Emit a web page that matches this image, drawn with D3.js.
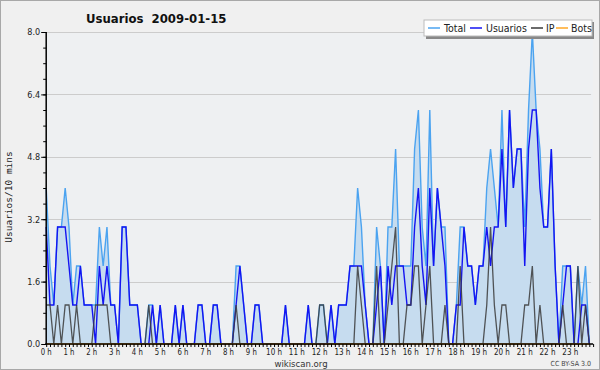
<!DOCTYPE html>
<html><head><meta charset="utf-8">
<script src="https://cdn.jsdelivr.net/npm/d3@7"></script>
<style>body{margin:0;background:#f0f0f0}svg{display:block}</style>
</head><body>
<svg id="c" width="600" height="370"></svg>
<script>
const hourLabels = ["0 h","1 h","2 h","3 h","4 h","5 h","6 h","7 h","8 h","9 h","10 h","11 h","12 h","13 h","14 h","15 h","16 h","17 h","18 h","19 h","20 h","21 h","22 h","23 h"];
const yTicks = [0, 1.6, 3.2, 4.8, 6.4, 8.0];
const seriesNames = ["Total","Usuarios","IP","Bots"];
const total = [4,2,1,3,3,4,3,1,2,2,1,1,1,1,3,2,3,1,1,0,3,3,1,1,
  1,0,0,1,1,0,1,0,0,0,1,0,1,0,0,0,1,1,0,0,1,1,0,0,
  0,0,2,2,1,0,0,1,1,0,0,0,0,0,0,1,0,0,0,0,0,1,0,0,
  1,1,0,1,0,1,1,1,2,2,4,3,1,0,0,3,2,0,3,3,5,2,2,2,
  2,5,6,3,2,6,2,4,3,3,0,0,1,3,3,2,2,1,2,2,4,5,4,3,
  6,3,6,4,5,5,3,6,8,6,5,3,3,5,2,0,2,2,2,0,2,1,2,0];
const usuarios = [3,1,1,3,3,3,2,1,1,2,1,1,1,0,2,1,2,1,1,0,3,3,1,1,
  1,0,0,0,1,0,1,0,0,0,1,0,1,0,0,0,1,1,0,0,1,1,0,0,
  0,0,1,2,1,0,0,1,1,0,0,0,0,0,0,1,0,0,0,0,0,1,0,0,
  0,0,0,1,0,1,1,1,2,2,2,2,1,0,0,1,2,0,2,1,2,2,2,1,
  1,3,4,2,1,4,2,4,3,2,0,0,1,1,3,2,2,1,2,2,3,2,3,3,
  5,3,6,4,5,5,2,5,6,6,4,3,3,5,2,0,1,2,2,0,0,1,1,0];
const ip = [1,1,0,1,0,1,1,0,1,0,0,0,0,1,1,1,1,0,0,0,0,0,0,0,
  0,0,0,1,0,0,0,0,0,0,0,0,0,0,0,0,0,0,0,0,0,0,0,0,
  0,0,1,0,0,0,0,0,0,0,0,0,0,0,0,0,0,0,0,0,0,0,0,0,
  1,1,0,0,0,0,0,0,0,0,2,1,0,0,0,2,0,0,1,2,3,0,0,1,
  1,2,2,0,1,2,0,0,0,1,0,0,0,2,0,0,0,0,0,0,1,3,1,0,
  1,1,0,0,0,0,1,1,2,0,1,0,0,0,0,0,1,0,0,0,2,0,1,0];
const bots = [0,0,0,0,0,0,0,0,0,0,0,0,0,0,0,0,0,0,0,0,0,0,0,0,
  0,0,0,0,0,0,0,0,0,0,0,0,0,0,0,0,0,0,0,0,0,0,0,0,
  0,0,0,0,0,0,0,0,0,0,0,0,0,0,0,0,0,0,0,0,0,0,0,0,
  0,0,0,0,0,0,0,0,0,0,0,0,0,0,0,0,0,0,0,0,0,0,0,0,
  0,0,0,0,0,0,0,0,0,0,0,0,0,0,0,0,0,0,0,0,0,0,0,0,
  0,0,0,0,0,0,0,0,0,0,0,0,0,0,0,0,0,0,0,0,0,0,0,0];

const svg = d3.select("#c");
const W = 600, H = 370;
const L = 46.2, R = 593.1, T = 32, B = 344;
const x = d3.scaleLinear().domain([0, 144]).range([L, R]);
const y = d3.scaleLinear().domain([0, 8]).range([B, T]);
const colors = {Total:"#4ba3f0", Usuarios:"#1414f2", IP:"#3a3a3a", Bots:"#ffa726"};
const font = "'DejaVu Sans Condensed','DejaVu Sans',sans-serif";

svg.append("rect").attr("x",0.5).attr("y",0.5).attr("width",W-1).attr("height",H-1)
  .attr("fill","#f0f0f0").attr("stroke","#a8a8a8");
svg.append("rect").attr("x",L).attr("y",T).attr("width",R-L).attr("height",B-T).attr("fill","#eef0f2");

// grid
svg.append("g").selectAll("line").data(yTicks.slice(1)).join("line")
  .attr("x1",L).attr("x2",R-2).attr("y1",d=>Math.round(y(d))+0.5).attr("y2",d=>Math.round(y(d))+0.5)
  .attr("stroke","#cccccc").attr("stroke-width",1);

const idx = d3.range(144);
const area = d3.area().x(i=>x(i)).y0(y(0)).y1(i=>y(total[i]));
svg.append("path").datum(idx).attr("d",area).attr("fill","#c6dcef");

function drawLine(arr, col, w, op){
  const ln = d3.line().x(i=>x(i)).y(i=>y(arr[i]));
  svg.append("path").datum(idx).attr("d",ln).attr("fill","none")
    .attr("stroke",col).attr("stroke-width",w).attr("stroke-opacity",op).attr("stroke-linejoin","miter");
}
drawLine(total, colors.Total, 1.4, 1);
drawLine(usuarios, colors.Usuarios, 1.4, 1);
drawLine(ip, colors.IP, 1.3, 0.85);
drawLine(bots, colors.Bots, 1.3, 1);

// y axis
const ya = svg.append("g").attr("transform",`translate(${L},0)`)
  .call(d3.axisLeft(y).tickValues(yTicks).tickFormat(d3.format(".1f")).tickSize(5).tickPadding(1));
ya.select(".domain").attr("stroke","#000").attr("stroke-width",1.5).attr("d",`M0,${T}V${B+0.5}`);
ya.selectAll("text").attr("font-family",font).attr("font-size",9).attr("fill","#222");
svg.append("g").attr("transform",`translate(${L},0)`)
  .call(d3.axisLeft(y).tickValues(d3.range(0,8.01,0.4)).tickFormat("").tickSize(3))
  .select(".domain").remove();

// x axis
const xa = svg.append("g").attr("transform",`translate(0,${B})`)
  .call(d3.axisBottom(x).tickValues(d3.range(0,145)).tickFormat("").tickSize(3));
xa.select(".domain").attr("stroke","#000").attr("stroke-width",1.5).attr("d",`M${L-1},0H${R}`);
svg.append("g").selectAll("text").data(hourLabels).join("text")
  .attr("x",(d,i)=>x(i*6)).attr("y",355).attr("text-anchor","middle")
  .attr("font-family",font).attr("font-size",8.5).attr("fill","#222")
  .attr("textLength",d=>d.length>3?16:11).attr("lengthAdjust","spacingAndGlyphs").text(d=>d);

// title
svg.append("text").attr("x",86).attr("y",23).attr("font-family",font).attr("font-weight","bold")
  .attr("font-size",13).attr("fill","#111").attr("xml:space","preserve")
  .text("Usuarios  2009-01-15");

// y label
svg.append("text").attr("transform","translate(12,197) rotate(-90)").attr("text-anchor","middle")
  .attr("font-family","'DejaVu Sans Mono',monospace").attr("font-size",9.5).attr("fill","#222")
  .text("Usuarios/10 mins");

// footer
svg.append("text").attr("x",301).attr("y",366.5).attr("text-anchor","middle")
  .attr("font-family",font).attr("font-size",9.5).attr("fill","#333").text("wikiscan.org");
svg.append("text").attr("x",591).attr("y",366).attr("text-anchor","end")
  .attr("font-family",font).attr("font-size",7).attr("fill","#444").text("CC BY-SA 3.0");

// legend
const lg = svg.append("g");
lg.append("rect").attr("x",426).attr("y",22).attr("width",168).attr("height",17).attr("fill","#888");
lg.append("rect").attr("x",424).attr("y",20).attr("width",168).attr("height",16).attr("fill","#fff").attr("stroke","#bbb");
const lgX = [428, 470, 531, 556];
const lgTx = [444, 486, 546, 571];
seriesNames.forEach((n,i)=>{
  lg.append("line").attr("x1",lgX[i]).attr("x2",lgX[i]+12).attr("y1",28).attr("y2",28)
    .attr("stroke",colors[n]).attr("stroke-width",1.5);
  lg.append("text").attr("x",lgTx[i]).attr("y",32).attr("font-family",font).attr("font-size",10.5)
    .attr("fill","#222").text(n);
});
</script>
</body></html>
